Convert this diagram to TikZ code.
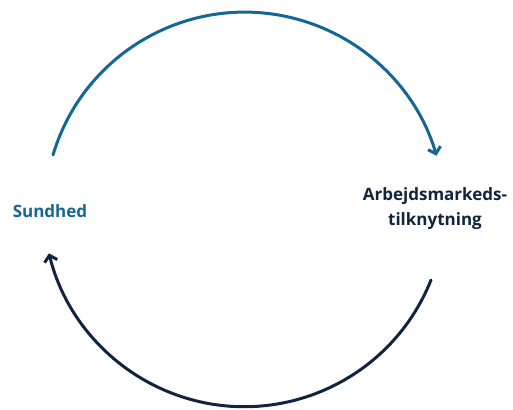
\documentclass[tikz,border=0pt]{standalone}
\usepackage{fontspec}
\setmainfont{Open Sans}
\usetikzlibrary{arrows.meta}
\definecolor{topblue}{RGB}{20,102,150}
\definecolor{navy}{RGB}{16,36,62}
\tikzset{
  cyclearc/.style={line width=3pt, line cap=round, -{Straight Barb[length=6pt,width=13pt,line width=3pt]}},
  lbl/.style={font=\bfseries\fontsize{17}{25}\selectfont, align=center, inner sep=0pt}
}
\begin{document}
\begin{tikzpicture}[x=1pt,y=-1pt]
\useasboundingbox (0,0) rectangle (513,409);
\node[lbl, text=topblue] (sund) at (50,211) {Sundhed};
\node[lbl, text=navy] (arb) at (435,209) {Arbejdsmarkeds-\\tilknytning};
\coordinate (topstart) at (53,155);
\coordinate (botstart) at (431,280);
\draw[cyclearc, topblue] (topstart) arc[start angle=-163.4, end angle=-16.4, radius=200];
\draw[cyclearc, navy] (botstart) arc[start angle=21.7, end angle=166.3, radius=201];
\end{tikzpicture}
\end{document}
